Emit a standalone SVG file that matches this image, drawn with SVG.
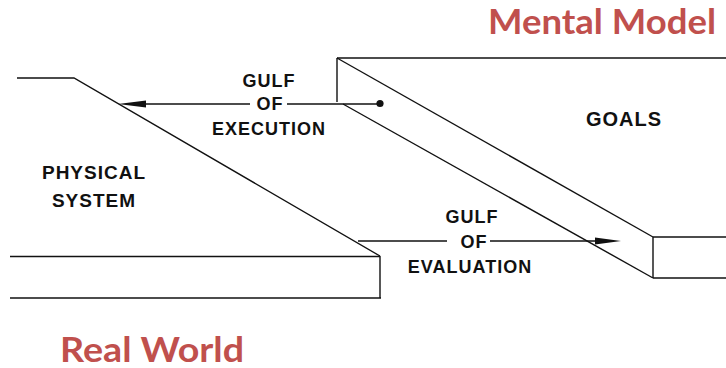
<svg xmlns="http://www.w3.org/2000/svg" width="726" height="368" viewBox="0 0 726 368">
  <style>
    .edge { fill: none; stroke: #111; stroke-width: 1.4; stroke-linejoin: miter; }
    .arrow { fill: none; stroke: #111; stroke-width: 1.6; }
    .head { fill: #111; }
    .lbl { font-family: "Liberation Sans", Arial, Helvetica, sans-serif; font-weight: bold; fill: #111; text-anchor: middle; letter-spacing: 1px; }
    .title { font-family: Lato, "Open Sans", "Liberation Sans", sans-serif; font-weight: bold; fill: #C0504D; }
  </style>

  <rect width="726" height="368" fill="#ffffff"/>

  <!-- physical system: sloped block with its base slab -->
  <g id="physical-system">
    <polyline class="edge" points="17,78 74,78 380,256"/>
    <line class="edge" x1="10" y1="256.5" x2="380" y2="256.5"/>
    <line class="edge" x1="380" y1="256" x2="380" y2="298"/>
    <line class="edge" x1="10" y1="298" x2="381" y2="298"/>
    <text class="lbl" x="94" y="179" font-size="19" letter-spacing="1.5">PHYSICAL</text>
    <text class="lbl" x="94" y="207" font-size="19" letter-spacing="1.5">SYSTEM</text>
  </g>

  <!-- goals: slanted slab of the user's side -->
  <g id="goals">
    <line class="edge" x1="337" y1="58" x2="726" y2="58"/>
    <line class="edge" x1="337" y1="58" x2="337" y2="102"/>
    <line class="edge" x1="337" y1="58" x2="653" y2="237"/>
    <line class="edge" x1="343" y1="104" x2="653" y2="278"/>
    <line class="edge" x1="653" y1="237" x2="653" y2="278"/>
    <line class="edge" x1="653" y1="237" x2="726" y2="237"/>
    <line class="edge" x1="653" y1="278" x2="726" y2="278"/>
    <text class="lbl" x="624" y="126" font-size="20" letter-spacing="2">GOALS</text>
  </g>

  <!-- connectors across the two gulfs -->
  <g id="connectors">
    <g id="gulf-of-execution">
      <line class="arrow" x1="140" y1="104" x2="250" y2="104"/>
      <line class="arrow" x1="287" y1="104" x2="380" y2="104"/>
      <circle class="head" cx="380" cy="103.5" r="3.6"/>
      <polygon class="head" points="118,104 146,100.5 146,107.5"/>
      <text class="lbl" x="269" y="87" font-size="18">GULF</text>
      <text class="lbl" x="270" y="110" font-size="18">OF</text>
      <text class="lbl" x="269" y="135" font-size="18">EXECUTION</text>
    </g>
    <g id="gulf-of-evaluation">
      <line class="arrow" x1="358" y1="241" x2="447" y2="241"/>
      <line class="arrow" x1="490" y1="241" x2="600" y2="241"/>
      <polygon class="head" points="621,241 595,237.5 595,244.5"/>
      <text class="lbl" x="472" y="223" font-size="18">GULF</text>
      <text class="lbl" x="474" y="248" font-size="18">OF</text>
      <text class="lbl" x="470" y="273" font-size="18">EVALUATION</text>
    </g>
  </g>

  <!-- section titles -->
  <g id="mental-model">
    <text class="title" x="488" y="34" font-size="34" textLength="228" lengthAdjust="spacingAndGlyphs">Mental Model</text>
  </g>
  <g id="real-world">
    <text class="title" x="60" y="362" font-size="34" textLength="184" lengthAdjust="spacingAndGlyphs">Real World</text>
  </g>
</svg>
